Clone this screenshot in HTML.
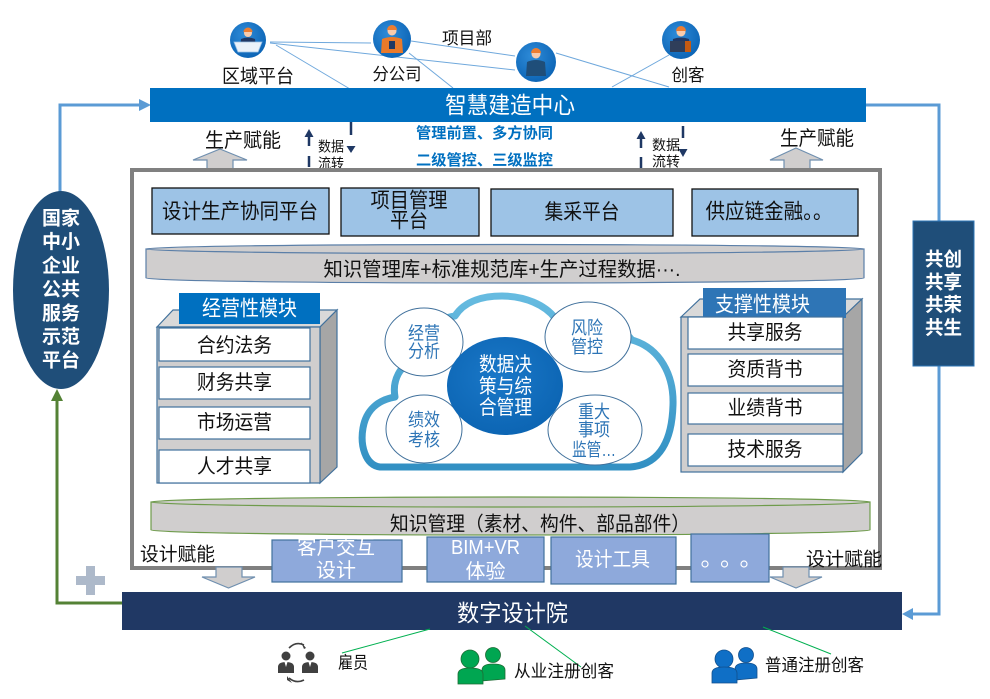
<!DOCTYPE html>
<html><head><meta charset="utf-8">
<style>
html,body{margin:0;padding:0;background:#fff;}
svg{display:block;font-family:"Liberation Sans","Noto Sans CJK SC",sans-serif;}
</style></head>
<body>
<svg width="990" height="699" viewBox="0 0 990 699" xmlns="http://www.w3.org/2000/svg">
<defs>
<linearGradient id="cg" x1="0" y1="0" x2="0" y2="1"><stop offset="0" stop-color="#66BBE0"/><stop offset="1" stop-color="#3290C3"/></linearGradient>
<radialGradient id="ib" cx="0.4" cy="0.35" r="0.7"><stop offset="0" stop-color="#2E8BD8"/><stop offset="1" stop-color="#0B63B4"/></radialGradient>
<radialGradient id="cc" cx="0.45" cy="0.4" r="0.7"><stop offset="0" stop-color="#1A78C8"/><stop offset="1" stop-color="#0A62B0"/></radialGradient>
</defs>
<rect width="990" height="699" fill="#fff"/>

<!-- top connector lines -->
<g stroke="#6FA8DC" stroke-width="1" fill="none">
<line x1="270" y1="42" x2="371" y2="43"/>
<line x1="270" y1="43" x2="515" y2="70"/>
<line x1="276" y1="45" x2="350" y2="89"/>
<line x1="411" y1="41" x2="515" y2="56"/>
<line x1="409" y1="53" x2="453" y2="88"/>
<line x1="556" y1="53" x2="669" y2="87"/>
<line x1="669" y1="55" x2="612" y2="87"/>
</g>

<!-- top icons -->
<g transform="translate(248,40)">
 <circle r="18" fill="url(#ib)"/>
 <circle cy="-7" r="4" fill="#F8CBAD"/><path d="M-4.5,-8 A4.5,4.5 0 0 1 4.5,-8 Z" fill="#ED7D31"/>
 <path d="M-8,8 L-7,-1 Q0,-4 7,-1 L8,8 Z" fill="#203864"/>
 <path d="M-14,2 L14,2 L10,12 L-10,12 Z" fill="#EAF2FA" stroke="#9DC3E6" stroke-width="0.8"/>
</g>
<g transform="translate(392,39)">
 <circle r="19" fill="url(#ib)"/>
 <circle cy="-8" r="4.5" fill="#F8CBAD"/><path d="M-5,-9 A5,5 0 0 1 5,-9 Z" fill="#ED7D31"/>
 <path d="M-11,14 L-10,0 Q0,-4 10,0 L11,14 Z" fill="#E97A2B"/>
 <rect x="-3" y="2" width="6" height="8" fill="#203864"/>
</g>
<g transform="translate(536,62)">
 <circle r="20" fill="url(#ib)"/>
 <circle cy="-8" r="4.5" fill="#F8CBAD"/><path d="M-5,-9 A5,5 0 0 1 5,-9 Z" fill="#ED7D31"/>
 <path d="M-10,14 L-9,0 Q0,-4 9,0 L10,14 Z" fill="#1F4E79"/>
</g>
<g transform="translate(681,40)">
 <circle r="19" fill="url(#ib)"/>
 <circle cy="-8" r="4.5" fill="#F8CBAD"/><path d="M-5,-9 A5,5 0 0 1 5,-9 Z" fill="#ED7D31"/>
 <path d="M-9,10 L-8,-1 Q0,-4 8,-1 L9,10 Z" fill="#203864"/>
 <rect x="-11" y="1" width="15" height="11" fill="#2F3E5A"/><rect x="4" y="1" width="6" height="11" fill="#C55A11"/>
</g>

<g font-size="17" fill="#111" text-anchor="middle" dominant-baseline="central" lengthAdjust="spacingAndGlyphs">
<text x="258" y="77" font-size="19" textLength="72" lengthAdjust="spacingAndGlyphs">区域平台</text>
<text x="397" y="74.5" textLength="49" lengthAdjust="spacingAndGlyphs">分公司</text>
<text x="467" y="38.5" textLength="50" lengthAdjust="spacingAndGlyphs">项目部</text>
<text x="688" y="75.5" textLength="33" lengthAdjust="spacingAndGlyphs">创客</text>
</g>

<!-- side connectors -->
<g stroke="#5B9BD5" stroke-width="3" fill="none">
<polyline points="60,192 60,105 140,105"/>
<polyline points="866,105 939,105 939,614 912,614"/>
</g>
<polygon points="151,105 139,99 139,111" fill="#5B9BD5"/>
<polygon points="902,614 913,608 913,620" fill="#5B9BD5"/>
<polyline points="122,603 57,603 57,400" stroke="#548235" stroke-width="3" fill="none"/>
<polygon points="57,389 51,401 63,401" fill="#548235"/>
<!-- plus -->
<rect x="76" y="576" width="29" height="9" fill="#ADB9CA"/>
<rect x="86" y="566" width="9" height="29" fill="#ADB9CA"/>

<!-- 智慧建造中心 -->
<rect x="150" y="88" width="716" height="34" fill="#0070C0"/>
<text x="510" y="105" font-size="23" fill="#fff" text-anchor="middle" dominant-baseline="central" textLength="130" lengthAdjust="spacingAndGlyphs">智慧建造中心</text>

<!-- 生产赋能 -->
<g font-size="20" fill="#111" text-anchor="middle" dominant-baseline="central">
<text x="243" y="141" textLength="76" lengthAdjust="spacingAndGlyphs">生产赋能</text>
<text x="817" y="139" textLength="74" lengthAdjust="spacingAndGlyphs">生产赋能</text>
</g>
<g fill="#D0CECE" stroke="#6F8FAF" stroke-width="1.2">
<polygon points="220,149 247,160 233,160 233,171 207,171 207,160 193,160"/>
<polygon points="796,148 823,160 810,160 810,171 784,171 784,160 770,160"/>
</g>

<!-- data flow arrows -->
<g stroke="#1F3864" stroke-width="2.5" fill="none">
<line x1="309" y1="136" x2="309" y2="146"/><line x1="309" y1="156" x2="309" y2="167"/>
<line x1="351" y1="122" x2="351" y2="135"/>
<line x1="641" y1="138" x2="641" y2="148"/><line x1="641" y1="157" x2="641" y2="168"/>
<line x1="683" y1="126" x2="683" y2="138"/>
</g>
<g fill="#1F3864">
<polygon points="309,129 304.5,137 313.5,137"/>
<polygon points="351,153 346.5,146 355.5,146"/>
<polygon points="641,131 636.5,139 645.5,139"/>
<polygon points="683,157 678.5,149 687.5,149"/>
</g>
<g font-size="14" fill="#111" text-anchor="middle" dominant-baseline="central">
<text x="331" y="146.5" textLength="26" lengthAdjust="spacingAndGlyphs">数据</text>
<text x="331" y="163.5" textLength="26" lengthAdjust="spacingAndGlyphs">流转</text>
<text x="666" y="145" textLength="28" lengthAdjust="spacingAndGlyphs">数据</text>
<text x="666" y="161.5" textLength="28" lengthAdjust="spacingAndGlyphs">流转</text>
</g>
<g font-size="15" font-weight="bold" fill="#0070C0" text-anchor="middle" dominant-baseline="central">
<text x="484.5" y="133.5" textLength="137" lengthAdjust="spacingAndGlyphs">管理前置、多方协同</text>
<text x="484.5" y="160.5" textLength="137" lengthAdjust="spacingAndGlyphs">二级管控、三级监控</text>
</g>

<!-- main frame -->
<rect x="132" y="170" width="748" height="398" fill="#fff" stroke="#808080" stroke-width="4"/>

<!-- platform boxes -->
<g fill="#9DC3E6" stroke="#111" stroke-width="1.3">
<rect x="152" y="188" width="177" height="46"/>
<rect x="341" y="188" width="138" height="48"/>
<rect x="491" y="189" width="182" height="47"/>
<rect x="692" y="189" width="166" height="47"/>
</g>
<g font-size="21" fill="#111" text-anchor="middle" dominant-baseline="central">
<text x="240" y="212" textLength="156" lengthAdjust="spacingAndGlyphs">设计生产协同平台</text>
<text x="409" y="201" textLength="77" lengthAdjust="spacingAndGlyphs">项目管理</text>
<text x="409" y="221" textLength="38" lengthAdjust="spacingAndGlyphs">平台</text>
<text x="582" y="212.5" textLength="75" lengthAdjust="spacingAndGlyphs">集采平台</text>
<text x="769" y="212" textLength="127" lengthAdjust="spacingAndGlyphs">供应链金融。。</text>
</g>

<!-- cylinder 1 -->
<path d="M146,249 L146,278 A359,5 0 0 0 864,278 L864,249 Z" fill="#D0CECE" stroke="#5B7FA8" stroke-width="1.2"/>
<ellipse cx="505" cy="249" rx="359" ry="4.5" fill="#D0CECE" stroke="#5B7FA8" stroke-width="1.2"/>
<text x="502" y="270" font-size="20" fill="#111" text-anchor="middle" dominant-baseline="central" textLength="357" lengthAdjust="spacingAndGlyphs">知识管理库+标准规范库+生产过程数据···.</text>

<!-- left module -->
<polygon points="157,327 173,310 337,310 320,327" fill="#D9D9D9" stroke="#41719C" stroke-width="1.2"/>
<polygon points="320,327 337,310 337,467 320,483" fill="#A6A6A6" stroke="#41719C" stroke-width="1.2"/>
<rect x="157" y="327" width="163" height="156" fill="#D0CECE" stroke="#41719C" stroke-width="1.2"/>
<rect x="179" y="293" width="141" height="31" fill="#0070C0"/>
<text x="249.5" y="309" font-size="21" fill="#fff" text-anchor="middle" dominant-baseline="central" textLength="95" lengthAdjust="spacingAndGlyphs">经营性模块</text>
<g fill="#fff" stroke="#41719C" stroke-width="1.2">
<rect x="159" y="328" width="151" height="33"/>
<rect x="159" y="367" width="151" height="32"/>
<rect x="159" y="407" width="151" height="32"/>
<rect x="159" y="450" width="151" height="33"/>
</g>
<g font-size="20" fill="#111" text-anchor="middle" dominant-baseline="central">
<text x="234.5" y="346" textLength="75" lengthAdjust="spacingAndGlyphs">合约法务</text>
<text x="234.5" y="383" textLength="75" lengthAdjust="spacingAndGlyphs">财务共享</text>
<text x="234.5" y="423" textLength="75" lengthAdjust="spacingAndGlyphs">市场运营</text>
<text x="234.5" y="467" textLength="75" lengthAdjust="spacingAndGlyphs">人才共享</text>
</g>

<!-- right module -->
<polygon points="681,317 700,299 862,299 843,317" fill="#D9D9D9" stroke="#41719C" stroke-width="1.2"/>
<polygon points="843,317 862,299 862,453 843,472" fill="#A6A6A6" stroke="#41719C" stroke-width="1.2"/>
<rect x="681" y="317" width="162" height="155" fill="#D0CECE" stroke="#41719C" stroke-width="1.2"/>
<rect x="703" y="288" width="143" height="30" fill="#2E75B6"/>
<text x="762.5" y="305" font-size="21" fill="#fff" text-anchor="middle" dominant-baseline="central" textLength="95" lengthAdjust="spacingAndGlyphs">支撑性模块</text>
<g fill="#fff" stroke="#41719C" stroke-width="1.2">
<rect x="688" y="317" width="155" height="32"/>
<rect x="688" y="354" width="155" height="32"/>
<rect x="688" y="393" width="155" height="31"/>
<rect x="688" y="434" width="155" height="32"/>
</g>
<g font-size="20" fill="#111" text-anchor="middle" dominant-baseline="central">
<text x="765" y="333" textLength="75" lengthAdjust="spacingAndGlyphs">共享服务</text>
<text x="765" y="370" textLength="75" lengthAdjust="spacingAndGlyphs">资质背书</text>
<text x="765" y="408.5" textLength="75" lengthAdjust="spacingAndGlyphs">业绩背书</text>
<text x="765" y="450" textLength="75" lengthAdjust="spacingAndGlyphs">技术服务</text>
</g>

<!-- cloud -->
<path d="M380,467 C365,465 360,445 363,428 C366,410 378,400 395,397 C392,380 400,365 415,360 C420,330 440,318 455,316 C465,300 485,296 502,296 C525,296 545,305 555,318 C590,312 620,325 632,340 C660,348 674,375 673,405 C672,440 660,465 630,467 Z" fill="#fff" stroke="url(#cg)" stroke-width="7" stroke-linejoin="round"/>
<g fill="#fff" stroke="#41719C" stroke-width="1">
<ellipse cx="424" cy="342" rx="39" ry="34"/>
<ellipse cx="588" cy="337" rx="43" ry="35"/>
<ellipse cx="424" cy="429" rx="38" ry="34"/>
<ellipse cx="595" cy="430" rx="47" ry="35"/>
</g>
<ellipse cx="505" cy="386" rx="58" ry="49" fill="url(#cc)"/>
<g font-size="18" fill="#2E75B6" text-anchor="middle" dominant-baseline="central">
<text x="424" y="333.5" textLength="32" lengthAdjust="spacingAndGlyphs">经营</text>
<text x="424" y="351.5" textLength="32" lengthAdjust="spacingAndGlyphs">分析</text>
<text x="587" y="328" textLength="32" lengthAdjust="spacingAndGlyphs">风险</text>
<text x="587" y="347" textLength="32" lengthAdjust="spacingAndGlyphs">管控</text>
<text x="424" y="420" textLength="32" lengthAdjust="spacingAndGlyphs">绩效</text>
<text x="424" y="440" textLength="32" lengthAdjust="spacingAndGlyphs">考核</text>
<text x="594" y="412" textLength="32" lengthAdjust="spacingAndGlyphs">重大</text>
<text x="594" y="430" textLength="32" lengthAdjust="spacingAndGlyphs">事项</text>
<text x="594" y="450" textLength="44" lengthAdjust="spacingAndGlyphs">监管…</text>
</g>
<g font-size="20" fill="#fff" text-anchor="middle" dominant-baseline="central">
<text x="505.5" y="365" textLength="53" lengthAdjust="spacingAndGlyphs">数据决</text>
<text x="505.5" y="387" textLength="53" lengthAdjust="spacingAndGlyphs">策与综</text>
<text x="505.5" y="408" textLength="53" lengthAdjust="spacingAndGlyphs">合管理</text>
</g>

<!-- cylinder 2 -->
<path d="M151,502 L151,530 A359.5,5 0 0 0 870,530 L870,502 Z" fill="#D0CECE" stroke="#6E9B4B" stroke-width="1.2"/>
<ellipse cx="510.5" cy="502" rx="359.5" ry="5" fill="#D0CECE" stroke="#6E9B4B" stroke-width="1.2"/>
<text x="540" y="524.5" font-size="20" fill="#111" text-anchor="middle" dominant-baseline="central" textLength="300" lengthAdjust="spacingAndGlyphs">知识管理（素材、构件、部品部件）</text>

<!-- 设计赋能 -->
<g font-size="19" fill="#111" text-anchor="middle" dominant-baseline="central">
<text x="177.5" y="555" textLength="75" lengthAdjust="spacingAndGlyphs">设计赋能</text>
<text x="844" y="560" textLength="76" lengthAdjust="spacingAndGlyphs">设计赋能</text>
</g>
<g fill="#D0CECE" stroke="#6F8FAF" stroke-width="1.2">
<polygon points="216,567 242,567 242,577 255,577 228.5,588 202,577 216,577"/>
<polygon points="783,567 809,567 809,577 822,577 796,588 770,577 783,577"/>
</g>

<!-- design boxes -->
<g fill="#8EA9DB" stroke="#41719C" stroke-width="1.2">
<rect x="272" y="540" width="130" height="42"/>
<rect x="427" y="537" width="117" height="45"/>
<rect x="551" y="537" width="125" height="47"/>
<rect x="691" y="534" width="78" height="48"/>
</g>
<g font-size="20" fill="#fff" text-anchor="middle" dominant-baseline="central">
<text x="336" y="548" textLength="78" lengthAdjust="spacingAndGlyphs">客户交互</text>
<text x="336" y="571" textLength="40" lengthAdjust="spacingAndGlyphs">设计</text>
<text x="485.5" y="548" textLength="69" lengthAdjust="spacingAndGlyphs">BIM+VR</text>
<text x="485.5" y="572" textLength="40" lengthAdjust="spacingAndGlyphs">体验</text>
<text x="612.5" y="560" textLength="75" lengthAdjust="spacingAndGlyphs">设计工具</text>
</g>
<g fill="none" stroke="#fff" stroke-width="1.2">
<circle cx="705" cy="564" r="3"/><circle cx="724.5" cy="564" r="3"/><circle cx="744" cy="564" r="3"/>
</g>

<!-- 数字设计院 -->
<rect x="122" y="592" width="780" height="38" fill="#203864"/>
<text x="512.5" y="613" font-size="23" fill="#fff" text-anchor="middle" dominant-baseline="central" textLength="111" lengthAdjust="spacingAndGlyphs">数字设计院</text>

<!-- green connectors -->
<g stroke="#00B050" stroke-width="1">
<line x1="430" y1="629" x2="342" y2="653"/>
<line x1="525" y1="626" x2="581" y2="667"/>
<line x1="763" y1="627" x2="831" y2="654"/>
</g>

<!-- 雇员 icon -->
<g fill="#404040">
<circle cx="286" cy="656" r="4.5"/>
<path d="M278,673 L278,667 Q278,662 286,662 Q294,662 294,667 L294,673 Z"/>
<circle cx="310" cy="656" r="4.5"/>
<path d="M302,673 L302,667 Q302,662 310,662 Q318,662 318,667 L318,673 Z"/>
</g>
<g fill="#fff"><polygon points="284.5,662 287.5,662 286,667"/><polygon points="308.5,662 311.5,662 310,667"/></g>
<g fill="none" stroke="#404040" stroke-width="1.6">
<path d="M289,648 Q296,641 304,645"/>
<path d="M289,678 Q296,684 304,680"/>
</g>
<polygon points="306,648 301,642 304,649" fill="#404040"/>
<polygon points="287,676 292,683 287,680" fill="#404040"/>

<!-- green persons -->
<g stroke="#1E6B34" stroke-width="0.8">
<circle cx="493" cy="655" r="7.5" fill="#00A651"/>
<path d="M482,681 L482,670 Q482,664 493,664 Q505,664 505,670 L505,679 Z" fill="#00A651"/>
<circle cx="470" cy="659" r="9" fill="#00A651"/>
<path d="M458,684 L458,674 Q458,668 470,668 Q483,668 483,674 L483,684 Z" fill="#00A651"/>
</g>
<!-- blue persons -->
<g stroke="#124F8C" stroke-width="0.8">
<circle cx="746" cy="655" r="7.5" fill="#0F6FC6"/>
<path d="M735,680 L735,669 Q735,663 746,663 Q757,663 757,669 L757,678 Z" fill="#0F6FC6"/>
<circle cx="724" cy="659" r="9" fill="#0F6FC6"/>
<path d="M712,683 L712,673 Q712,667 724,667 Q737,667 737,673 L737,683 Z" fill="#0F6FC6"/>
</g>

<g font-size="17" fill="#111" text-anchor="middle" dominant-baseline="central">
<text x="353" y="663" textLength="30" lengthAdjust="spacingAndGlyphs">雇员</text>
<text x="564" y="671.5" textLength="100" lengthAdjust="spacingAndGlyphs">从业注册创客</text>
<text x="814.5" y="665.5" textLength="99" lengthAdjust="spacingAndGlyphs">普通注册创客</text>
</g>

<!-- left ellipse -->
<ellipse cx="61" cy="290" rx="48" ry="99" fill="#1F4E79"/>
<g font-size="19" font-weight="bold" fill="#fff" text-anchor="middle" dominant-baseline="central">
<text x="61" y="219" textLength="38" lengthAdjust="spacingAndGlyphs">国家</text>
<text x="61" y="242.7" textLength="38" lengthAdjust="spacingAndGlyphs">中小</text>
<text x="61" y="266.4" textLength="38" lengthAdjust="spacingAndGlyphs">企业</text>
<text x="61" y="290.1" textLength="38" lengthAdjust="spacingAndGlyphs">公共</text>
<text x="61" y="313.8" textLength="38" lengthAdjust="spacingAndGlyphs">服务</text>
<text x="61" y="337.5" textLength="38" lengthAdjust="spacingAndGlyphs">示范</text>
<text x="61" y="361.2" textLength="38" lengthAdjust="spacingAndGlyphs">平台</text>
</g>

<!-- right box -->
<rect x="913" y="221" width="61" height="145" fill="#1F4E79" stroke="#2E75B6" stroke-width="1"/>
<g font-size="19" font-weight="bold" fill="#fff" text-anchor="middle" dominant-baseline="central">
<text x="943.5" y="260" textLength="37" lengthAdjust="spacingAndGlyphs">共创</text>
<text x="943.5" y="283" textLength="37" lengthAdjust="spacingAndGlyphs">共享</text>
<text x="943.5" y="305.5" textLength="37" lengthAdjust="spacingAndGlyphs">共荣</text>
<text x="943.5" y="328.5" textLength="37" lengthAdjust="spacingAndGlyphs">共生</text>
</g>
</svg>
</body></html>
